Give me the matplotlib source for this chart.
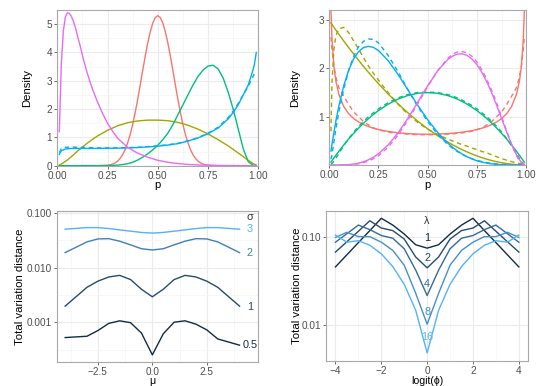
import matplotlib
matplotlib.use("Agg")
import matplotlib.pyplot as plt
from matplotlib.ticker import NullFormatter

plt.rcParams['font.family'] = ['Liberation Sans', 'DejaVu Sans']
plt.rcParams['axes.unicode_minus'] = True

RED, OLIVE, GREEN, BLUE, MAGENTA = '#F8766D', '#A3A500', '#00BF7D', '#00B0F6', '#E76BF3'

# ---------------- top-left panel data ----------------
tl_red_p = [0.01, 0.2, 0.25, 0.2625, 0.275, 0.2875, 0.3, 0.3125, 0.325, 0.3375, 0.35, 0.3625, 0.375,
            0.3875, 0.4, 0.4125, 0.425, 0.4375, 0.45, 0.4625, 0.475, 0.4875, 0.5, 0.5125, 0.525,
            0.5375, 0.55, 0.5625, 0.575, 0.5875, 0.6, 0.6125, 0.625, 0.6375, 0.65, 0.6625, 0.675,
            0.6875, 0.7, 0.7125, 0.725, 0.7375, 0.75, 0.8, 0.99]
tl_red_d = [0.0, 0.0, 0.017, 0.032, 0.058, 0.099, 0.16, 0.256, 0.39, 0.57, 0.81, 1.10, 1.46,
            1.88, 2.34, 2.85, 3.37, 3.87, 4.34, 4.73, 5.04, 5.23, 5.30, 5.23, 5.04,
            4.73, 4.34, 3.87, 3.37, 2.85, 2.34, 1.88, 1.46, 1.10, 0.81, 0.57, 0.39,
            0.256, 0.16, 0.099, 0.058, 0.032, 0.017, 0.0, 0.0]

tl_olive_p = [0.01, 0.025, 0.05, 0.075, 0.1, 0.125, 0.15, 0.175, 0.2, 0.25, 0.3, 0.35, 0.4, 0.45, 0.5,
              0.55, 0.6, 0.65, 0.7, 0.75, 0.8, 0.85, 0.9, 0.925, 0.95, 0.975, 0.99]
tl_olive_d = [0.02, 0.08, 0.2, 0.35, 0.51, 0.66, 0.8, 0.93, 1.05, 1.25, 1.41, 1.52, 1.58, 1.61, 1.61,
              1.59, 1.53, 1.43, 1.29, 1.12, 0.92, 0.70, 0.45, 0.32, 0.19, 0.07, 0.02]

tl_green_p = [0.01, 0.25, 0.3, 0.325, 0.35, 0.375, 0.4, 0.425, 0.45, 0.475, 0.5, 0.525, 0.55, 0.575,
              0.6, 0.625, 0.65, 0.675, 0.7, 0.725, 0.75, 0.775, 0.8, 0.825, 0.85, 0.875, 0.9,
              0.925, 0.95, 0.975, 0.99]
tl_green_d = [0.0, 0.003, 0.02, 0.04, 0.07, 0.12, 0.2, 0.3, 0.42, 0.56, 0.72, 0.92, 1.15, 1.45,
              1.8, 2.15, 2.5, 2.85, 3.15, 3.38, 3.52, 3.55, 3.42, 3.1, 2.6, 2.0, 1.3,
              0.6, 0.14, 0.01, 0.0]

tl_blue_p = [0.01, 0.02, 0.04, 0.07, 0.1, 0.2, 0.3, 0.4, 0.5, 0.55, 0.6, 0.65, 0.7, 0.75, 0.8,
             0.85, 0.875, 0.9, 0.925, 0.95, 0.97, 0.98, 0.99]
tl_blue_d = [0.40, 0.53, 0.59, 0.61, 0.61, 0.61, 0.62, 0.64, 0.69, 0.73, 0.78, 0.87, 0.98, 1.13, 1.33,
             1.65, 1.88, 2.15, 2.5, 2.85, 3.3, 3.55, 4.0]
tl_blue_dash_d = [0.46, 0.60, 0.65, 0.66, 0.65, 0.63, 0.63, 0.65, 0.70, 0.74, 0.79, 0.88, 0.99, 1.15, 1.36,
                  1.7, 1.93, 2.2, 2.5, 2.8, 3.1, 3.25, 3.3]

tl_mag_p = [0.01, 0.02, 0.03, 0.04, 0.05, 0.06, 0.07, 0.08, 0.09, 0.1, 0.115, 0.13, 0.15, 0.175, 0.2,
            0.225, 0.25, 0.275, 0.3, 0.35, 0.4, 0.45, 0.5, 0.55, 0.6, 0.65, 0.7, 0.8, 0.9, 0.99]
tl_mag_d = [1.2, 3.6, 4.75, 5.25, 5.4, 5.38, 5.28, 5.1, 4.88, 4.6, 4.2, 3.75, 3.25, 2.7, 2.25,
            1.85, 1.5, 1.22, 0.97, 0.65, 0.44, 0.3, 0.19, 0.12, 0.075, 0.045, 0.025, 0.008, 0.001, 0.0]

# ---------------- top-right panel data ----------------
tr_p = [0.01, 0.015, 0.025, 0.035, 0.05, 0.075, 0.1, 0.125, 0.15, 0.175, 0.2, 0.225, 0.25, 0.3, 0.35,
        0.4, 0.45, 0.5, 0.55, 0.6, 0.625, 0.65, 0.675, 0.7, 0.725, 0.75, 0.775, 0.8, 0.825, 0.85,
        0.875, 0.9, 0.925, 0.95, 0.965, 0.975, 0.985, 0.99]
tr_red = [3.199, 2.619, 2.039, 1.732, 1.461, 1.209, 1.061, 0.962, 0.891, 0.838, 0.796, 0.762, 0.735,
          0.695, 0.667, 0.650, 0.640, 0.637, 0.640, 0.650, 0.657, 0.667, 0.680, 0.695, 0.713, 0.735,
          0.762, 0.796, 0.838, 0.891, 0.962, 1.061, 1.209, 1.461, 1.732, 2.039, 2.619, 3.199]
tr_red_dash = [2.65, 2.4, 2.05, 1.82, 1.6, 1.42, 1.25, 1.1, 1.0, 0.9, 0.83, 0.77, 0.73, 0.68, 0.655,
               0.638, 0.628, 0.625, 0.628, 0.638, 0.645, 0.655, 0.665, 0.68, 0.70, 0.73, 0.77, 0.83,
               0.9, 1.0, 1.1, 1.25, 1.42, 1.6, 1.82, 2.05, 2.4, 2.65]
tr_olive = [2.940, 2.911, 2.852, 2.794, 2.708, 2.567, 2.43, 2.297, 2.168, 2.042, 1.92, 1.802, 1.688,
            1.47, 1.268, 1.08, 0.908, 0.75, 0.608, 0.48, 0.422, 0.368, 0.317, 0.27, 0.227, 0.188,
            0.152, 0.12, 0.092, 0.068, 0.047, 0.03, 0.017, 0.0075, 0.0037, 0.0019, 0.0007, 0.0003]
tr_olive_dash = [0.7, 1.7, 2.4, 2.68, 2.82, 2.85, 2.74, 2.57, 2.4, 2.22, 2.05, 1.9, 1.76, 1.5, 1.26,
                 1.05, 0.88, 0.74, 0.63, 0.54, 0.5, 0.46, 0.42, 0.39, 0.35, 0.32, 0.28, 0.25, 0.21,
                 0.17, 0.135, 0.1, 0.07, 0.045, 0.032, 0.022, 0.012, 0.008]
tr_green = [0.0594, 0.0887, 0.146, 0.203, 0.285, 0.416, 0.54, 0.656, 0.765, 0.866, 0.96, 1.046,
            1.125, 1.26, 1.365, 1.44, 1.485, 1.5, 1.485, 1.44, 1.406, 1.365, 1.316, 1.26, 1.196,
            1.125, 1.046, 0.96, 0.866, 0.765, 0.656, 0.54, 0.416, 0.285, 0.203, 0.146, 0.0887, 0.0594]
tr_green_dash = [0.01, 0.03, 0.08, 0.14, 0.24, 0.4, 0.55, 0.68, 0.8, 0.9, 1.0, 1.08, 1.16, 1.29,
                 1.39, 1.46, 1.5, 1.51, 1.5, 1.46, 1.43, 1.39, 1.34, 1.29, 1.23, 1.16, 1.08, 1.0,
                 0.9, 0.8, 0.68, 0.55, 0.4, 0.24, 0.14, 0.08, 0.03, 0.01]
tr_blue = [0.288, 0.424, 0.678, 0.911, 1.222, 1.647, 1.968, 2.198, 2.349, 2.432, 2.458, 2.435,
           2.373, 2.161, 1.874, 1.555, 1.235, 0.9375, 0.677, 0.461, 0.371, 0.293, 0.226, 0.170,
           0.124, 0.088, 0.0596, 0.0384, 0.0232, 0.0129, 0.0064, 0.0027, 0.0009, 0.0002, 0.0,
           0.0, 0.0, 0.0]
tr_blue_dash = [0.12, 0.22, 0.48, 0.75, 1.1, 1.58, 1.96, 2.25, 2.45, 2.56, 2.61, 2.6, 2.53, 2.27,
                1.93, 1.56, 1.21, 0.9, 0.64, 0.43, 0.35, 0.28, 0.22, 0.17, 0.13, 0.095, 0.07, 0.05,
                0.035, 0.022, 0.014, 0.008, 0.004, 0.002, 0.001, 0.001, 0.0, 0.0]
tr_mag = [0.0, 0.0, 0.0, 0.00002, 0.0006, 0.0028, 0.0085, 0.0196, 0.0384, 0.067, 0.1075, 0.1616,
          0.2307, 0.4167, 0.6658, 0.9677, 1.3025, 1.6406, 1.9456, 2.1773, 2.253, 2.296, 2.302,
          2.269, 2.193, 2.076, 1.917, 1.72, 1.49, 1.233, 0.962, 0.689, 0.432, 0.214, 0.1115,
          0.0593, 0.0222, 0.0101]
tr_mag_dash = [0.0, 0.0, 0.0, 0.0, 0.0, 0.0, 0.004, 0.012, 0.025, 0.05, 0.08, 0.13, 0.19, 0.37,
               0.62, 0.93, 1.27, 1.62, 1.95, 2.2, 2.29, 2.34, 2.35, 2.32, 2.25, 2.13, 1.97, 1.77,
               1.54, 1.28, 1.0, 0.71, 0.43, 0.19, 0.09, 0.04, 0.01, 0.005]

# ---------------- bottom-left panel data ----------------
mu = [-4, -3, -2.5, -2, -1.5, -1, -0.5, 0, 0.5, 1, 1.5, 2, 2.5, 3, 4]
sigma_labels = ['0.5', '1', '2', '3']
tv_s05 = [0.00053, 0.00056, 0.00071, 0.00096, 0.00107, 0.00099, 0.00064, 0.000256, 0.00062, 0.00101,
          0.00107, 0.00093, 0.00073, 0.0005, 0.000385]
tv_s1 = [0.00198, 0.00436, 0.00564, 0.00673, 0.0072, 0.00604, 0.00402, 0.00293, 0.00402, 0.00604,
         0.0072, 0.00673, 0.00564, 0.00436, 0.00198]
tv_s2 = [0.0187, 0.0293, 0.0332, 0.0336, 0.0302, 0.0259, 0.022, 0.0209, 0.022, 0.0259, 0.0302,
         0.0336, 0.0332, 0.0293, 0.0187]
tv_s3 = [0.0499, 0.0534, 0.0534, 0.0513, 0.0485, 0.046, 0.0436, 0.0424, 0.0436, 0.046, 0.0485,
         0.0513, 0.0534, 0.0534, 0.0499]
sigma_label_y = [0.00038, 0.00195, 0.0187, 0.05]

# ---------------- bottom-right panel data ----------------
lphi = [-4, -3.5, -3, -2.5, -2, -1.5, -1, -0.5, 0, 0.5, 1, 1.5, 2, 2.5, 3, 3.5, 4]
lambda_labels = ['1', '2', '4', '8', '16']
tv_l1 = [0.0456, 0.0625, 0.0857, 0.117, 0.161, 0.135, 0.107, 0.081, 0.0742, 0.081, 0.107, 0.135,
         0.161, 0.117, 0.0857, 0.0625, 0.0456]
tv_l2 = [0.067, 0.0877, 0.115, 0.151, 0.125, 0.117, 0.094, 0.059, 0.0445, 0.059, 0.094, 0.117,
         0.125, 0.151, 0.115, 0.0877, 0.067]
tv_l4 = [0.0865, 0.108, 0.135, 0.12, 0.103, 0.096, 0.073, 0.042, 0.0217, 0.042, 0.073, 0.096,
         0.103, 0.12, 0.135, 0.108, 0.0865]
tv_l8 = [0.098, 0.112, 0.1, 0.1, 0.0866, 0.07, 0.0477, 0.023, 0.0103, 0.023, 0.0477, 0.07,
         0.0866, 0.1, 0.1, 0.112, 0.098]
tv_l16 = [0.104, 0.0866, 0.09, 0.08, 0.064, 0.046, 0.029, 0.0148, 0.0049, 0.0148, 0.029, 0.046,
          0.064, 0.08, 0.09, 0.0866, 0.104]
lambda_label_y = [0.0966, 0.058, 0.0293, 0.0142, 0.0073]

# ---------------- figure ----------------
W, H = 538, 386
fig = plt.figure(figsize=(W / 100, H / 100), dpi=100)


def box(l, r, t, b):
    return [l / W, (H - b) / H, (r - l) / W, (b - t) / H]


def ftext(x, y, s, **kw):
    fig.text(x / W, 1 - y / H, s, **kw)


def style(ax):
    ax.set_axisbelow(True)
    ax.grid(which='major', color='#EBEBEB', lw=0.8)
    ax.grid(which='minor', color='#F4F4F4', lw=0.5)
    for s in ax.spines.values():
        s.set_color('#A8A8A8')
        s.set_linewidth(0.8)
    ax.tick_params(which='major', length=2.5, width=0.6, color='#555555', labelsize=7.2,
                   labelcolor='#4D4D4D', pad=1.2)
    ax.tick_params(which='minor', length=0)


LW = 1.0
DASH = (0, (3.2, 2.6))
TFS = 8.2

# top-left
ax1 = fig.add_axes(box(57.3, 258.3, 10, 165.7))
ax1.plot(tl_red_p, tl_red_d, color=RED, lw=LW)
ax1.plot(tl_olive_p, tl_olive_d, color=OLIVE, lw=LW)
ax1.plot(tl_green_p, tl_green_d, color=GREEN, lw=LW)
ax1.plot(tl_blue_p, tl_blue_dash_d, color=BLUE, lw=LW, ls=DASH)
ax1.plot(tl_blue_p, tl_blue_d, color=BLUE, lw=LW)
ax1.plot(tl_mag_p, tl_mag_d, color=MAGENTA, lw=LW)
ax1.set_xlim(0, 1)
ax1.set_ylim(0, 5.5)
ax1.set_xticks([0, 0.25, 0.5, 0.75, 1.0])
ax1.set_xticklabels(['0.00', '0.25', '0.50', '0.75', '1.00'])
ax1.set_xticks([0.125, 0.375, 0.625, 0.875], minor=True)
ax1.set_yticks([0, 1, 2, 3, 4, 5])
ax1.set_yticks([0.5, 1.5, 2.5, 3.5, 4.5], minor=True)
style(ax1)
ftext(157.8, 185.5, 'p', fontsize=TFS, ha='center', va='center')
ftext(27, 88, 'Density', fontsize=TFS, ha='center', va='center', rotation=90)

# top-right
ax2 = fig.add_axes(box(329, 526.3, 10, 165))
for sol, das, c in [(tr_red, tr_red_dash, RED), (tr_olive, tr_olive_dash, OLIVE),
                    (tr_green, tr_green_dash, GREEN), (tr_blue, tr_blue_dash, BLUE),
                    (tr_mag, tr_mag_dash, MAGENTA)]:
    ax2.plot(tr_p, das, color=c, lw=LW, ls=DASH)
    ax2.plot(tr_p, sol, color=c, lw=LW)
ax2.set_xlim(0, 1)
ax2.set_ylim(0, 3.21)
ax2.set_xticks([0, 0.25, 0.5, 0.75, 1.0])
ax2.set_xticklabels(['0.00', '0.25', '0.50', '0.75', '1.00'])
ax2.set_xticks([0.125, 0.375, 0.625, 0.875], minor=True)
ax2.set_yticks([1, 2, 3])
ax2.set_yticks([0.5, 1.5, 2.5], minor=True)
style(ax2)
ftext(427.6, 185.5, 'p', fontsize=TFS, ha='center', va='center')
ftext(295, 88, 'Density', fontsize=TFS, ha='center', va='center', rotation=90)

# bottom-left
sig_cols = ['#132B43', '#264B6E', '#4080B6', '#56B1F7']
ax3 = fig.add_axes(box(57.3, 258.3, 211, 362))
for ys, c in zip([tv_s05, tv_s1, tv_s2, tv_s3], sig_cols):
    ax3.plot(mu, ys, color=c, lw=LW)
ax3.set_yscale('log')
ax3.set_xlim(-4.36, 4.86)
ax3.set_ylim(10 ** -3.721, 10 ** -0.970)
ax3.set_xticks([-2.5, 0, 2.5])
ax3.set_xticklabels(['\u22122.5', '0.0', '2.5'])
ax3.set_xticks([-3.75, -1.25, 1.25, 3.75], minor=True)
ax3.set_yticks([0.001, 0.01, 0.1])
ax3.set_yticklabels(['0.001', '0.010', '0.100'])
ax3.set_yticks([10 ** -3.5, 10 ** -2.5, 10 ** -1.5], minor=True)
ax3.yaxis.set_minor_formatter(NullFormatter())
style(ax3)
for lab, yv, c in zip(sigma_labels, sigma_label_y, sig_cols):
    ax3.text(4.47, yv, lab, color=c, fontsize=7.8, ha='center', va='center')
ax3.text(4.47, 0.085, '\u03c3', color='#333333', fontsize=7.8, ha='center', va='center')
ftext(152.3, 385.8, '\u03bc', fontsize=7.6, ha='center', va='bottom')
ftext(20.5, 287, 'Total variation distance', fontsize=TFS, ha='center', va='center', rotation=90)

# bottom-right
lam_cols = ['#132B43', '#264C70', '#36699A', '#468FCB', '#56B1F7']
ax4 = fig.add_axes(box(326.3, 528, 211, 360.5))
for ys, c in zip([tv_l1, tv_l2, tv_l4, tv_l8, tv_l16], lam_cols):
    ax4.plot(lphi, ys, color=c, lw=LW)
ax4.set_yscale('log')
ax4.set_xlim(-4.4, 4.4)
ax4.set_ylim(10 ** -2.396, 10 ** -0.711)
ax4.set_xticks([-4, -2, 0, 2, 4])
ax4.set_xticklabels(['\u22124', '\u22122', '0', '2', '4'])
ax4.set_xticks([-3, -1, 1, 3], minor=True)
ax4.set_yticks([0.01, 0.1])
ax4.set_yticklabels(['0.01', '0.10'])
ax4.set_yticks([10 ** -1.5], minor=True)
ax4.yaxis.set_minor_formatter(NullFormatter())
style(ax4)
for lab, yv, c in zip(lambda_labels, lambda_label_y, lam_cols):
    ax4.text(0, yv, lab, color=c, fontsize=7.8, ha='center', va='center')
ax4.text(0, 0.15, '\u03bb', color='#333333', fontsize=7.8, ha='center', va='center')
ftext(427.2, 385.8, 'logit(\u03d5)', fontsize=7.6, ha='center', va='bottom')
ftext(296.5, 286, 'Total variation distance', fontsize=TFS, ha='center', va='center', rotation=90)

fig.savefig('out.png', dpi=100)
